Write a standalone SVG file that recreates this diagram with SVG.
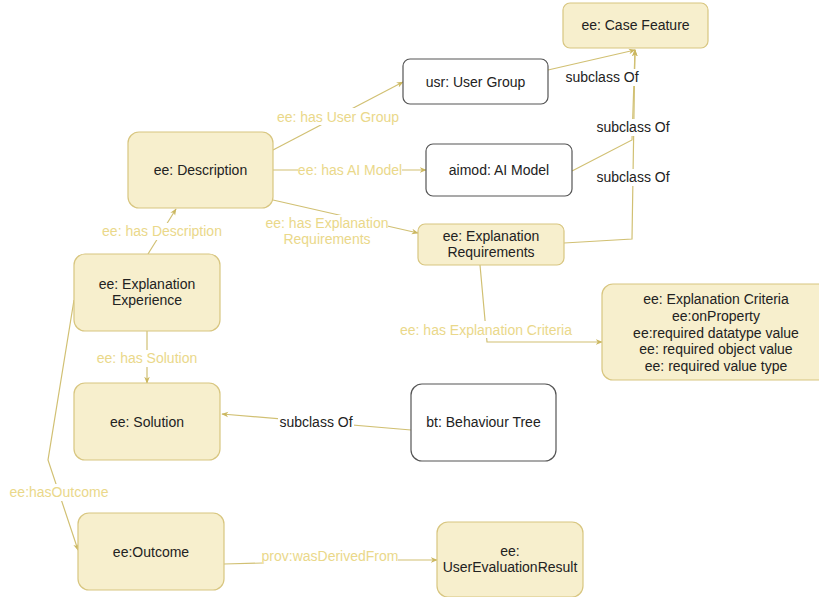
<svg xmlns="http://www.w3.org/2000/svg" width="819" height="597" viewBox="0 0 819 597">
<defs>
<marker id="arr" viewBox="0 0 10 10" refX="9" refY="5" markerWidth="7" markerHeight="7" orient="auto" markerUnits="userSpaceOnUse">
<path d="M0,1 L10,5 L0,9 L3,5 Z" fill="#cbb760"/>
</marker>
<style>
.y{fill:#f7efcd;stroke:#d8c680;stroke-width:1.2}
.w{fill:#ffffff;stroke:#555555;stroke-width:1.2}
.t{font-family:"Liberation Sans",Arial,sans-serif;font-size:14px;fill:#222222;text-anchor:middle}
.e{fill:none;stroke:#d1c073;stroke-width:1.2}
.l{font-family:"Liberation Sans",Arial,sans-serif;font-size:14px;fill:#ead88a;text-anchor:middle}
.lb{font-family:"Liberation Sans",Arial,sans-serif;font-size:14px;fill:#222222;text-anchor:middle}
.bg{fill:#ffffff}
</style>
</defs>
<rect width="819" height="597" fill="#ffffff"/>
<g id="connectors">
<path class="e" d="M548,70 L635,50" marker-end="url(#arr)"/>
<path class="e" d="M572,171 L632,140 L635,50" marker-end="url(#arr)"/>
<path class="e" d="M564,243 L632,239 L635,50" marker-end="url(#arr)"/>
<path class="e" d="M273,150 L403,82" marker-end="url(#arr)"/>
<path class="e" d="M273,170 L426,170" marker-end="url(#arr)"/>
<path class="e" d="M273,200 L418,233" marker-end="url(#arr)"/>
<path class="e" d="M148,254 L176,209" marker-end="url(#arr)"/>
<path class="e" d="M147,331 L147,383" marker-end="url(#arr)"/>
<path class="e" d="M74,300 L48,460 L78,550" marker-end="url(#arr)"/>
<path class="e" d="M411,430 L222,414" marker-end="url(#arr)"/>
<path class="e" d="M480,265 L487,342 L602,342" marker-end="url(#arr)"/>
<path class="e" d="M224,564 L263,563 L398,560 L437,560" marker-end="url(#arr)"/>
<g>
<rect class="bg" x="564" y="69" width="76" height="17"/>
<text class="lb" x="602" y="82">subclass Of</text>
<rect class="bg" x="596" y="119" width="74" height="17"/>
<text class="lb" x="633" y="132">subclass Of</text>
<rect class="bg" x="596" y="169" width="74" height="17"/>
<text class="lb" x="633" y="182">subclass Of</text>
<rect class="bg" x="278" y="413" width="76" height="17"/>
<text class="lb" x="316" y="427">subclass Of</text>
<rect class="bg" x="275" y="108" width="126" height="17"/>
<text class="l" x="338" y="122">ee: has User Group</text>
<rect class="bg" x="298" y="162" width="104" height="17"/>
<text class="l" x="350" y="175">ee: has AI Model</text>
<rect class="bg" x="266" y="215" width="122" height="32"/>
<text class="l" x="327" y="228">ee: has Explanation</text>
<text class="l" x="327" y="244">Requirements</text>
<rect class="bg" x="102" y="223" width="120" height="17"/>
<text class="l" x="162" y="236">ee: has Description</text>
<rect class="bg" x="97" y="350" width="100" height="17"/>
<text class="l" x="147" y="363">ee: has Solution</text>
<rect class="bg" x="10" y="484" width="98" height="17"/>
<text class="l" x="59" y="497">ee:hasOutcome</text>
<rect class="bg" x="402" y="321" width="170" height="17"/>
<text class="l" x="486" y="335">ee: has Explanation Criteria</text>
<rect class="bg" x="262" y="547" width="136" height="17"/>
<text class="l" x="330" y="561">prov:wasDerivedFrom</text>
</g>
</g>
<g id="case-feature"><rect class="y" x="563" y="3" width="145" height="45" rx="7"/><text class="t" x="635.5" y="30">ee: Case Feature</text></g>
<g id="user-group"><rect class="w" x="403" y="59" width="145" height="45" rx="7"/><text class="t" x="475.5" y="87">usr: User Group</text></g>
<g id="ai-model"><rect class="w" x="426" y="144" width="146" height="52" rx="7"/><text class="t" x="499" y="175">aimod: AI Model</text></g>
<g id="explanation-requirements"><rect class="y" x="418" y="224" width="146" height="41" rx="7"/><text class="t" x="491" y="241">ee: Explanation</text><text class="t" x="491" y="257">Requirements</text></g>
<g id="description"><rect class="y" x="128" y="132" width="145" height="76" rx="11"/><text class="t" x="200.5" y="175">ee: Description</text></g>
<g id="explanation-experience"><rect class="y" x="74" y="254" width="146" height="77" rx="11"/><text class="t" x="147" y="289">ee: Explanation</text><text class="t" x="147" y="305">Experience</text></g>
<g id="solution"><rect class="y" x="74" y="383" width="146" height="77" rx="11"/><text class="t" x="147" y="427">ee: Solution</text></g>
<g id="behaviour-tree"><rect class="w" x="411" y="384" width="145" height="77" rx="11"/><text class="t" x="483.5" y="427">bt: Behaviour Tree</text></g>
<g id="outcome"><rect class="y" x="78" y="513" width="146" height="77" rx="11"/><text class="t" x="151" y="557">ee:Outcome</text></g>
<g id="user-evaluation-result"><rect class="y" x="437" y="522" width="146" height="75" rx="11"/><text class="t" x="510" y="556">ee:</text><text class="t" x="510" y="572">UserEvaluationResult</text></g>
<g id="explanation-criteria"><rect class="y" x="602" y="284" width="230" height="96" rx="11"/>
<text class="t" x="716" y="304">ee: Explanation Criteria</text>
<text class="t" x="716" y="321">ee:onProperty</text>
<text class="t" x="716" y="338">ee:required datatype value</text>
<text class="t" x="716" y="354">ee: required object value</text>
<text class="t" x="716" y="371">ee: required value type</text>
</g>
</svg>
